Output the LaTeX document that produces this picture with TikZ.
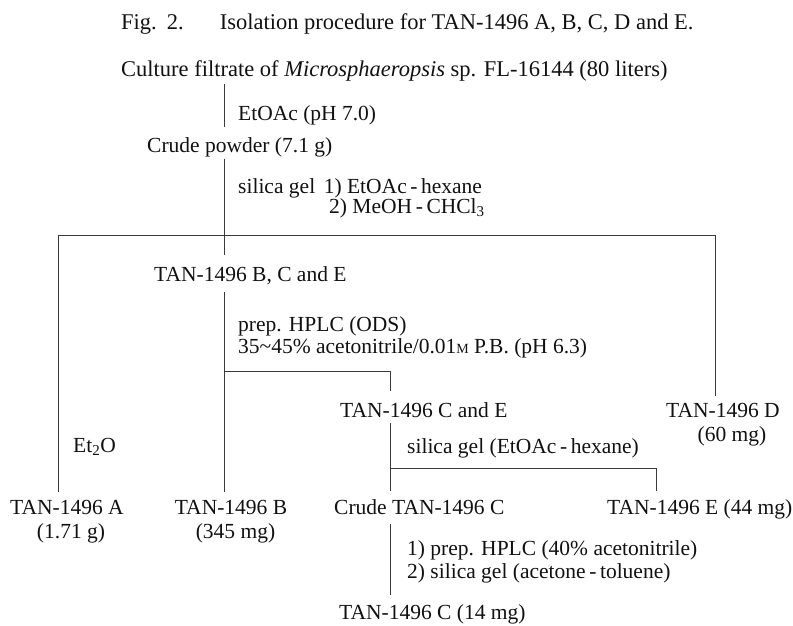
\documentclass[tikz,border=0pt]{standalone}
\usepackage{fontspec}
\setmainfont{Liberation Serif}
\usetikzlibrary{positioning}
\definecolor{ink}{HTML}{111111}
\definecolor{rule}{HTML}{3A3A3A}
\newcommand{\molar}{{\fontsize{14}{14}\selectfont M}}

\begin{document}
\begin{tikzpicture}[x=1pt,y=-1pt,
 lbl/.style={inner sep=0pt,anchor=base west,font=\fontsize{21.5}{25}\selectfont,text=ink},
 res/.style={inner sep=0pt,anchor=base,font=\fontsize{21.5}{25}\selectfont,text=ink},
 ln/.style={draw=rule,line width=0.9pt}]
\useasboundingbox (0,0) rectangle (793,625);
% column positions of the rules
\coordinate (trunk) at (224,0);
\coordinate (colA) at (58,0);
\coordinate (colC) at (390,0);
\coordinate (colD) at (715,0);
\coordinate (colE) at (656,0);
\coordinate (split1) at (224,235);
\coordinate (split2) at (224,371);
\coordinate (split3) at (390,468);
% texts
\node[lbl,font=\fontsize{22.5}{26}\selectfont] (fig) at (121,29.5) {Fig.\hspace{0.45em}2.\hspace{1.6em}Isolation procedure for TAN-1496 A, B, C, D and E.};
\node[lbl,font=\fontsize{22.5}{26}\selectfont] (cult) at (121,76) {Culture filtrate of \textit{Microsphaeropsis} sp. FL-16144 (80 liters)};
\node[lbl] (etoac) at (238,120) {EtOAc (pH 7.0)};
\node[lbl] (crude) at (147,152) {Crude powder (7.1 g)};
\node[lbl] (sil1) at (238,193) {silica gel\hspace{0.4em}1) EtOAc\,-\,hexane};
\node[lbl] (sil2) at (329,213) {2) MeOH\,-\,CHCl\textsubscript{3}};
\node[lbl] (bce) at (154,281) {TAN-1496 B, C and E};
\node[lbl] (hplc1) at (238,331) {prep. HPLC (ODS)};
\node[lbl] (hplc2) at (238,353) {35\textasciitilde45\% acetonitrile/0.01\molar{} P.B. (pH 6.3)};
\node[lbl] (tce) at (340,417) {TAN-1496 C and E};
\node[res] (td) at (723,417) {TAN-1496 D};
\node[res] (td2) at (732,441) {(60 mg)};
\node[lbl] (et2o) at (73,452) {Et\textsubscript{2}O};
\node[lbl] (sil3) at (407,453) {silica gel (EtOAc\,-\,hexane)};
\node[res] (ta) at (67,514) {TAN-1496 A};
\node[res] (ta2) at (71,538) {(1.71 g)};
\node[res] (tb) at (231,514) {TAN-1496 B};
\node[res] (tb2) at (235.5,538) {(345 mg)};
\node[lbl] (crc) at (334,514) {Crude TAN-1496 C};
\node[lbl] (te) at (607,514) {TAN-1496 E (44 mg)};
\node[lbl] (step1) at (407,555) {1) prep. HPLC (40\% acetonitrile)};
\node[lbl] (step2) at (407,578) {2) silica gel (acetone\,-\,toluene)};
\node[lbl] (tc) at (339,619) {TAN-1496 C (14 mg)};
% rules
\draw[ln,shorten <=3pt,shorten >=10pt] (cult.south -| trunk) -- (crude.north -| trunk);
\draw[ln,shorten <=2pt,shorten >=11pt] (crude.south -| trunk) -- (bce.north -| trunk);
\draw[ln] (colA |- split1) -- (colD |- split1);
\draw[ln,shorten >=8pt] (colA |- split1) -- (ta.north -| colA);
\draw[ln,shorten >=7pt] (colD |- split1) -- (td.north -| colD);
\draw[ln,shorten <=7pt,shorten >=8pt] (bce.south -| trunk) -- (tb.north -| trunk);
\draw[ln,shorten >=11pt] (split2) -- (colC |- split2) -- (tce.north -| colC);
\draw[ln,shorten <=6pt,shorten >=8pt] (tce.south -| colC) -- (crc.north -| colC);
\draw[ln,shorten >=8pt] (split3) -- (colE |- split3) -- (te.north -| colE);
\draw[ln,shorten <=10pt,shorten >=9pt] (crc.south -| colC) -- (tc.north -| colC);
\end{tikzpicture}
\end{document}
